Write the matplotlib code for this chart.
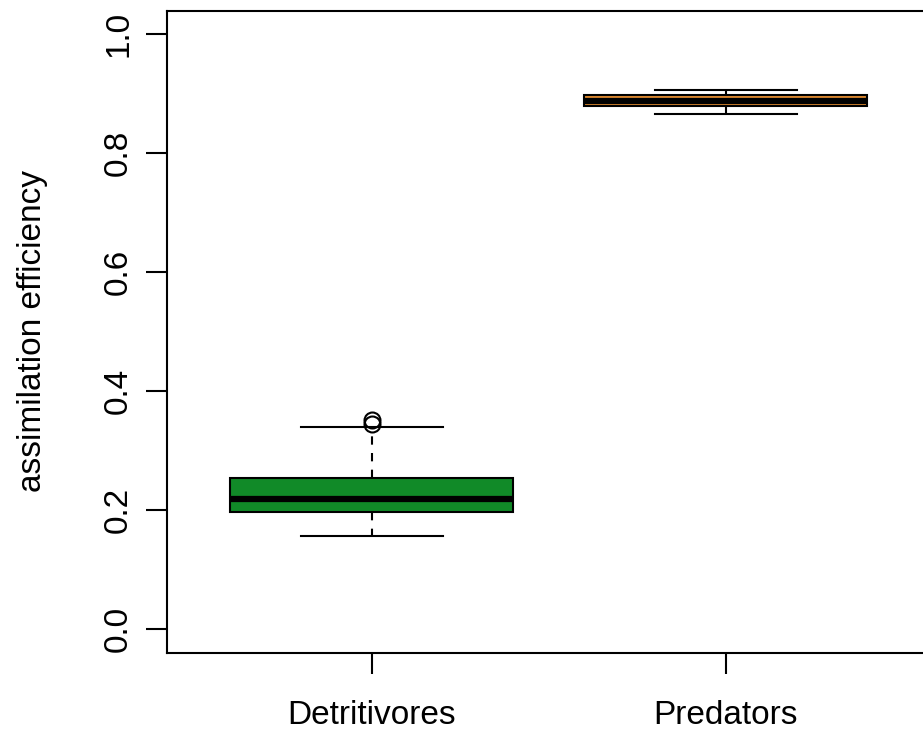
import numpy as np
import matplotlib
matplotlib.use("Agg")
import matplotlib.pyplot as plt

plt.rcParams["font.family"] = ["Liberation Sans", "DejaVu Sans"]
plt.rcParams["font.size"] = 24

# values
groups = ["Detritivores", "Predators"]
whisker_low = [0.156, 0.866]
q1 = [0.196, 0.879]
median = [0.219, 0.888]
q3 = [0.254, 0.898]
whisker_high = [0.340, 0.906]
outliers = [[0.345, 0.352], []]
box_colors = ["#118A28", "#E08A30"]
y_ticks = [0.0, 0.2, 0.4, 0.6, 0.8, 1.0]
y_label = "assimilation efficiency"

LW = 1.5  # one R lwd unit at this size

stats = []
for i, name in enumerate(groups):
    stats.append(dict(label=name, whislo=whisker_low[i], q1=q1[i], med=median[i],
                      q3=q3[i], whishi=whisker_high[i], fliers=outliers[i]))

fig = plt.figure(figsize=(9.23, 7.31), dpi=100)
W, H = 923, 731
left, right, top, bottom = 166.7, 931.0, 10.5, 652.7
ax = fig.add_axes([left / W, 1 - bottom / H, (right - left) / W, (bottom - top) / H])

bp = ax.bxp(stats, positions=[1, 2], widths=0.8, patch_artist=True,
            boxprops=dict(linewidth=LW, edgecolor="black"),
            medianprops=dict(color="black", linewidth=3 * LW, solid_capstyle="butt"),
            whiskerprops=dict(color="black", linewidth=LW, linestyle=(0, (4, 4))),
            capprops=dict(color="black", linewidth=LW),
            capwidths=0.4,
            flierprops=dict(marker="o", markerfacecolor="none", markeredgecolor="black",
                            markersize=11.5, markeredgewidth=LW, linestyle="none"))
for patch, c in zip(bp["boxes"], box_colors):
    patch.set_facecolor(c)

ax.set_xlim(0.42, 2.58)
ax.set_ylim(-0.04, 1.04)
ax.set_yticks(y_ticks)
ax.set_yticklabels([f"{v:.1f}" for v in y_ticks], rotation=90, va="center")
ax.set_xticks([1, 2])
ax.set_xticklabels(groups)
ax.tick_params(axis="both", direction="out", length=14.9, width=LW)
ax.tick_params(axis="y", pad=8.6)
ax.tick_params(axis="x", pad=19)
for s in ax.spines.values():
    s.set_linewidth(LW)

fig.text(33 / W, 1 - 331.5 / H, y_label, rotation=90, ha="center", va="center")

fig.savefig("out.png", dpi=100)
